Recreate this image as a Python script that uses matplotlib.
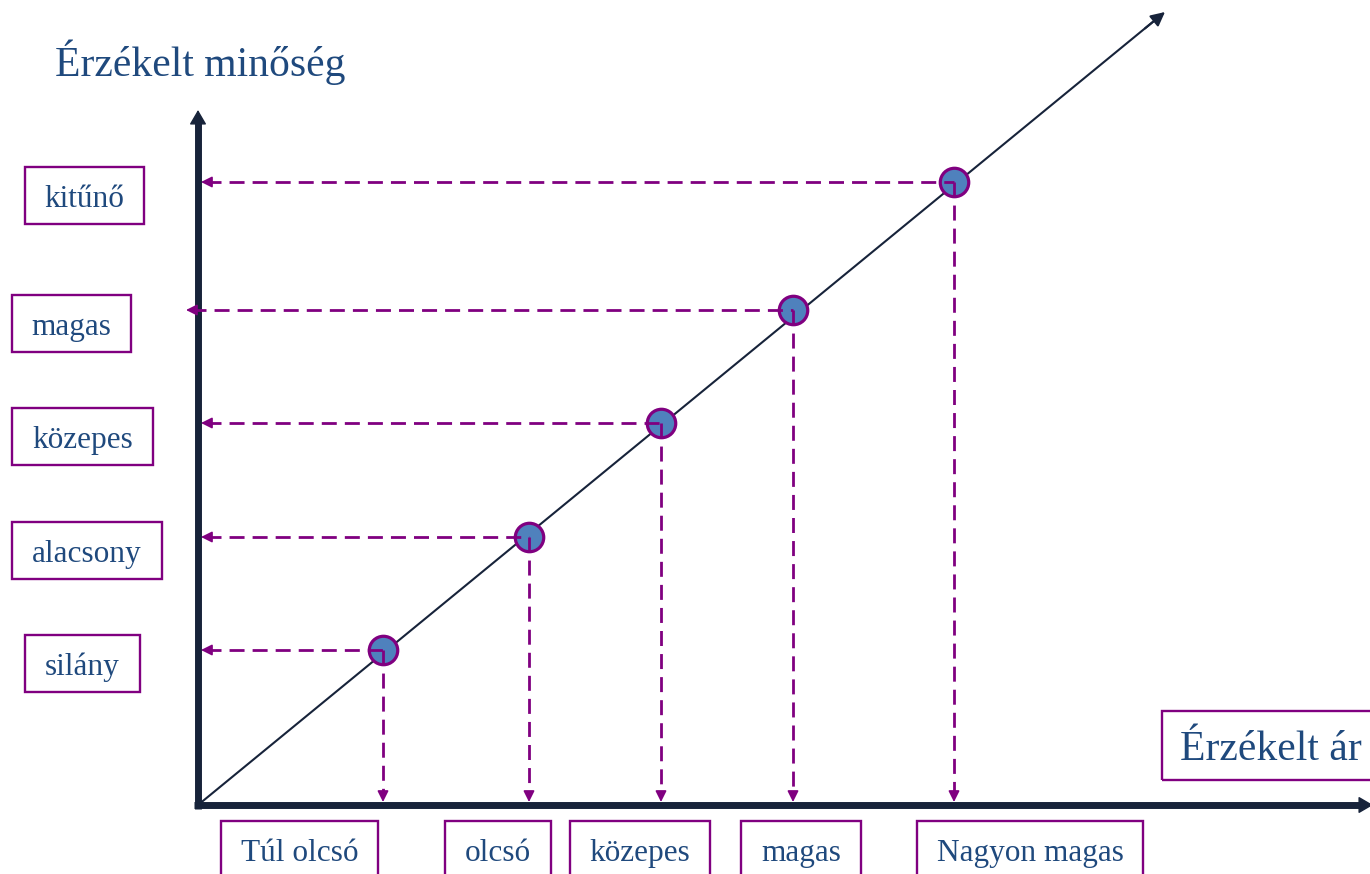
import matplotlib
matplotlib.use('Agg')
import matplotlib.pyplot as plt
from matplotlib.patches import Rectangle

# perceived price / perceived quality levels
price_labels = ['Túl olcsó', 'olcsó', 'közepes', 'magas', 'Nagyon magas']
quality_labels = ['silány', 'alacsony', 'közepes', 'magas', 'kitűnő']
price = [1.85, 3.31, 4.63, 5.95, 7.56]
quality = [1.55, 2.68, 3.82, 4.95, 6.23]

# layout (not data): label box centres, arrow end points
price_label_x = [1.015, 3.0, 4.42, 6.03, 8.32]
quality_label_x = [-1.155, -1.11, -1.155, -1.265, -1.135]
h_arrow_end = [0.03, 0.03, 0.03, -0.12, 0.03]
diag_end = (9.67, 7.93)

TEXT = '#1F497D'
PURPLE = '#800080'
DARK = '#17233A'
FILL = '#4F81BD'

plt.rcParams['font.family'] = ['Liberation Serif', 'DejaVu Serif']

fig = plt.figure(figsize=(13.7, 8.74), dpi=100)
ax = fig.add_axes([0, 0, 1, 1])
ax.set_xlim(-1.98, 11.72)
ax.set_ylim(-0.69, 8.05)
ax.axis('off')


def head(tip, base, color, lw, scale, hl, hw, z):
    ax.annotate('', xy=tip, xytext=base, annotation_clip=False,
                arrowprops=dict(arrowstyle=f'-|>,head_length={hl},head_width={hw}',
                                color=color, lw=lw, mutation_scale=scale,
                                shrinkA=0, shrinkB=0),
                zorder=z)


# main axes
ax.plot([0, 0], [-0.035, 6.84], color=DARK, lw=5, solid_capstyle='butt', zorder=2)
head((0, 6.95), (0, 6.75), DARK, 1, 15, 0.6, 0.35, 2)
ax.plot([-0.035, 11.62], [0, 0], color=DARK, lw=5, solid_capstyle='butt', zorder=2)
head((11.75, 0), (11.55, 0), DARK, 1, 15, 0.6, 0.35, 2)

# diagonal
ax.plot([0, diag_end[0] - 0.08], [0, diag_end[1] - 0.065], color=DARK, lw=1.5, zorder=1)
head(diag_end, (diag_end[0] - 0.2, diag_end[1] - 0.164), DARK, 1.5, 12, 0.7, 0.35, 1)

# points
ax.plot(price, quality, 'o', ms=20.5, mfc=FILL, mec=PURPLE, mew=2.3, zorder=3)

# dashed guide lines
dash = (0, (5.4, 2.9))
for p, q, hx in zip(price, quality, h_arrow_end):
    ax.plot([hx + 0.05, p], [q, q], color=PURPLE, lw=2, linestyle=dash, zorder=4)
    head((hx, q), (hx + 0.1, q), PURPLE, 1.2, 11, 0.6, 0.3, 4)
    ax.plot([p, p], [q, 0.08], color=PURPLE, lw=2, linestyle=dash, zorder=4)
    head((p, 0.03), (p, 0.13), PURPLE, 1.2, 11, 0.6, 0.3, 4)

# texts: (text, box centre y, box height, horizontal pad)
boxed = []
for lab, x in zip(price_labels, price_label_x):
    t = ax.text(x, -0.485, lab, ha='center', va='center', fontsize=22.5, color=TEXT)
    boxed.append((t, -0.445, 0.57, 20))
for lab, x, q in zip(quality_labels, quality_label_x, quality):
    t = ax.text(x, q - 0.175, lab, ha='center', va='center', fontsize=22.5, color=TEXT)
    boxed.append((t, q - 0.135, 0.57, 20))
t = ax.text(9.82, 0.555, 'Érzékelt ár', ha='left', va='center', fontsize=30, color=TEXT)
boxed.append((t, 0.6, 0.69, 18))
ax.text(-1.43, 7.43, 'Érzékelt minőség', ha='left', va='center', fontsize=30, color=TEXT)

fig.canvas.draw()
renderer = fig.canvas.get_renderer()
inv = ax.transData.inverted()
for t, cy, h, px in boxed:
    bb = t.get_window_extent(renderer)
    x0 = inv.transform((bb.x0 - px, bb.y0))[0]
    x1 = inv.transform((bb.x1 + px, bb.y0))[0]
    ax.add_patch(Rectangle((x0, cy - h / 2), x1 - x0, h, fill=False,
                           edgecolor=PURPLE, lw=1.7, clip_on=False, zorder=5))

fig.savefig('out.png', dpi=100)
